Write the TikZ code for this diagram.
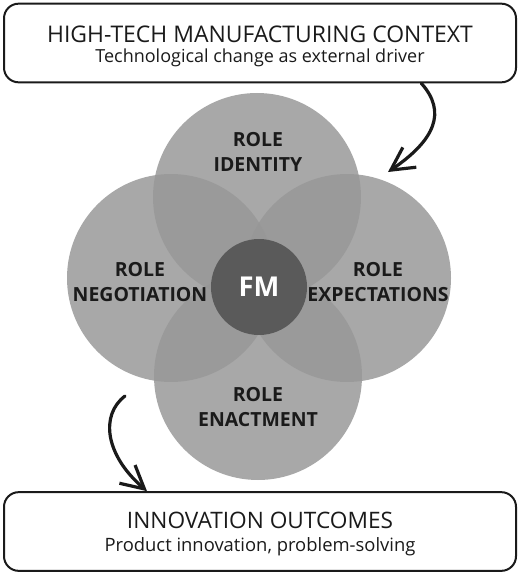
\documentclass[tikz,border=0pt]{standalone}
\usepackage{fontspec}
\setmainfont{Open Sans}
\usetikzlibrary{arrows.meta}

\definecolor{rolegray}{RGB}{151,151,151}
\definecolor{fmgray}{RGB}{90,90,90}
\definecolor{inkblack}{RGB}{26,26,26}

\begin{document}
\begin{tikzpicture}[
		x=0.75pt, y=-0.75pt,
		contextbox/.style={draw=inkblack, line width=1.5pt, rounded corners=11pt, minimum width=384pt, minimum height=59pt, align=center, inner sep=0pt, text=inkblack, font=\fontsize{13.5}{15}\selectfont},
		rolecircle/.style={circle, fill=rolegray, fill opacity=0.84, minimum size=156pt, inner sep=0pt},
		roletext/.style={align=center, font=\bfseries\fontsize{14.6}{18.5}\selectfont, text=inkblack},
		flowarrow/.style={-{Straight Barb[length=17pt, width=18pt]}, line width=2.4pt, line cap=round, line join=round, draw=inkblack}
		]
		\useasboundingbox (0,0) rectangle (520,574);
		
		% Boxes
		\node[contextbox, text height=31.8pt] (context) at (260,43) {{\fontsize{17.2}{20}\selectfont HIGH-TECH MANUFACTURING CONTEXT}\\Technological change as external driver};
		\node[contextbox, text height=33.5pt, font=\fontsize{13.8}{17}\selectfont] (outcomes) at (260,531.5) {{\fontsize{17}{20}\selectfont INNOVATION OUTCOMES}\\Product innovation, problem-solving};
		
		% Circles
		\node[rolecircle] (identity) at (257,197) {};
		\node[rolecircle] (negotiation) at (171,278) {};
		\node[rolecircle] (expectations) at (347,278) {};
		\node[rolecircle] (enactment) at (258,376) {};
		\node[circle, fill=fmgray, minimum size=72pt, inner sep=0pt, text=white, font=\bfseries\fontsize{20.5}{22}\selectfont] (fm) at (259,287) {FM};
		
		% Labels
		\node[roletext] (identitytext) at (258,152) {ROLE\\IDENTITY};
		\node[roletext] (negotiationtext) at (140,282) {ROLE\\NEGOTIATION};
		\node[roletext] (expectationstext) at (378,282) {ROLE\\EXPECTATIONS};
		\node[roletext] (enactmenttext) at (258,407) {ROLE\\ENACTMENT};
		
		% Arrows
		\coordinate (driverend) at (388,172);
		\coordinate (outcomestart) at (125,396);
		\draw[flowarrow] ([xshift=121pt]context.south) .. controls (447,112) and (435,140) .. (driverend);
		\draw[flowarrow] (outcomestart) .. controls (100,415) and (105,455) .. ([xshift=-84.75pt]outcomes.north);
	\end{tikzpicture}
\end{document}
